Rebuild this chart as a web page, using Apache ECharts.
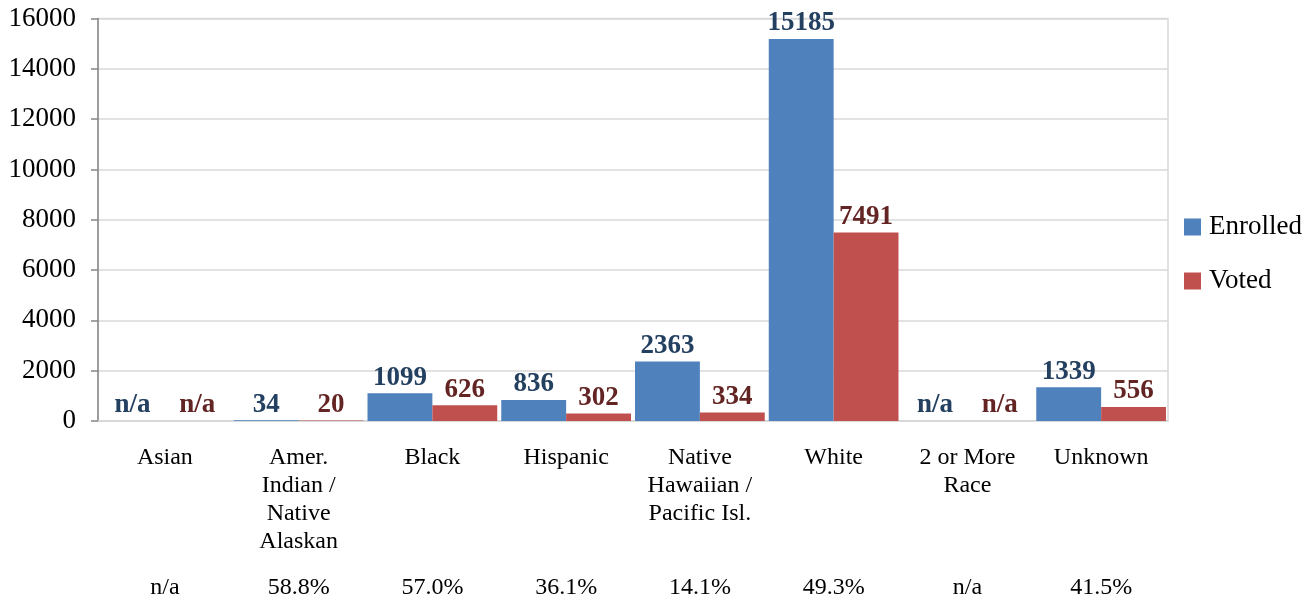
<!DOCTYPE html>
<html>
<head>
<meta charset="utf-8">
<script src="https://cdn.jsdelivr.net/npm/echarts@6/dist/echarts.min.js"></script>
<style>html,body{margin:0;padding:0;background:#fff}#c{width:1316px;height:602px}</style>
</head>
<body>
<div id="c"></div>
<script>
const categories = ['Asian', 'Amer.\nIndian /\nNative\nAlaskan', 'Black', 'Hispanic', 'Native\nHawaiian /\nPacific Isl.', 'White', '2 or More\nRace', 'Unknown'];
const enrolled = [null, 34, 1099, 836, 2363, 15185, null, 1339];
const voted = [null, 20, 626, 302, 334, 7491, null, 556];
const percentLabels = ['n/a', '58.8%', '57.0%', '36.1%', '14.1%', '49.3%', 'n/a', '41.5%'];
const yTicks = { min: 0, max: 16000, interval: 2000 };

const FONT = '"Liberation Serif", "Times New Roman", serif';
function toData(arr) {
  return arr.map(v => v === null ? { value: 0, label: { formatter: 'n/a' } } : v);
}
const chart = echarts.init(document.getElementById('c'), null, { renderer: 'canvas' });
chart.setOption({
  animation: false,
  textStyle: { fontFamily: FONT },
  grid: { left: 98, right: 148, top: 18.5, bottom: 180, show: true, borderColor: '#d9d9d9', borderWidth: 1.5 },
  legend: {
    orient: 'vertical', left: 1179, top: 207, itemWidth: 17, itemHeight: 17, itemGap: 24,
    icon: 'rect',
    textStyle: { fontFamily: FONT, fontSize: 27, color: '#000', lineHeight: 30, padding: [0, 0, 0, 3] },
    data: ['Enrolled', 'Voted']
  },
  xAxis: [{
    type: 'category', data: categories, gridIndex: 0,
    axisLine: { show: true, lineStyle: { color: '#d9d9d9', width: 1.5 } },
    axisTick: { show: false },
    axisLabel: { interval: 0, margin: 23, fontFamily: FONT, fontSize: 24, lineHeight: 28, color: '#000' }
  }, {
    type: 'category', data: percentLabels, gridIndex: 0, position: 'bottom',
    axisLine: { show: false }, axisTick: { show: false },
    axisLabel: { interval: 0, margin: 153, fontFamily: FONT, fontSize: 24, lineHeight: 28, color: '#000' }
  }],
  yAxis: {
    type: 'value', min: yTicks.min, max: yTicks.max, interval: yTicks.interval,
    axisLine: { show: true, lineStyle: { color: '#868686', width: 1.5 } },
    axisTick: { show: true, length: 7, lineStyle: { color: '#868686', width: 1.5 } },
    splitLine: { lineStyle: { color: '#d9d9d9', width: 1.5 } },
    axisLabel: { margin: 22, fontFamily: FONT, fontSize: 27, color: '#000', formatter: v => String(v), padding: [3, 0, 0, 0] }
  },
  series: [{
    name: 'Enrolled', type: 'bar', xAxisIndex: 0, data: toData(enrolled),
    barGap: '0%', barCategoryGap: '3%',
    itemStyle: { color: '#4F81BD' },
    label: { show: true, position: 'top', distance: 2, fontFamily: FONT, fontSize: 27, fontWeight: 'bold', color: '#244061' }
  }, {
    name: 'Voted', type: 'bar', xAxisIndex: 0, data: toData(voted),
    barGap: '0%', barCategoryGap: '3%',
    itemStyle: { color: '#C0504D' },
    label: { show: true, position: 'top', distance: 2, fontFamily: FONT, fontSize: 27, fontWeight: 'bold', color: '#632523' }
  }]
});
</script>
</body>
</html>
